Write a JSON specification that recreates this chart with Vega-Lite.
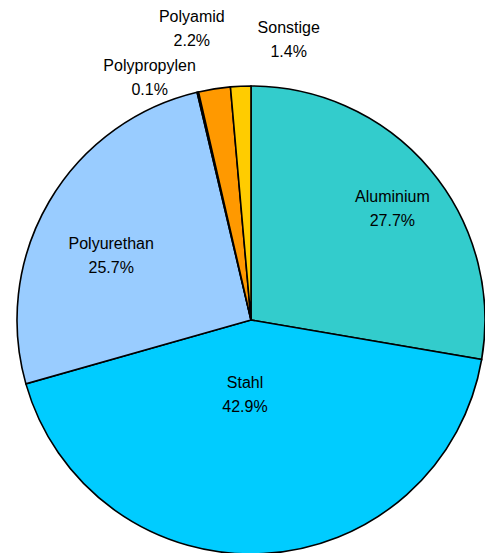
{
  "$schema": "https://vega.github.io/schema/vega-lite/v6.json",
  "width": 502,
  "height": 640,
  "autosize": "none",
  "padding": 0,
  "background": "white",
  "config": {"view": {"stroke": null}},
  "data": {
    "values": [
      {"name": "Aluminium", "share": 27.7, "rank": 1, "label": "Aluminium\n27.7%"},
      {"name": "Stahl", "share": 42.9, "rank": 2, "label": "Stahl\n42.9%"},
      {"name": "Polyurethan", "share": 25.7, "rank": 3, "label": "Polyurethan\n25.7%"},
      {"name": "Polypropylen", "share": 0.1, "rank": 4, "label": "Polypropylen\n0.1%"},
      {"name": "Polyamid", "share": 2.2, "rank": 5, "label": "Polyamid\n2.2%"},
      {"name": "Sonstige", "share": 1.4, "rank": 6, "label": "Sonstige\n1.4%"}
    ]
  },
  "encoding": {
    "theta": {"field": "share", "type": "quantitative", "stack": true},
    "order": {"field": "rank", "type": "quantitative"}
  },
  "layer": [
    {
      "mark": {"type": "arc", "outerRadius": 234, "stroke": "#000000", "strokeWidth": 1.6},
      "encoding": {
        "color": {
          "field": "name", "type": "nominal", "legend": null,
          "scale": {
            "domain": ["Aluminium", "Stahl", "Polyurethan", "Polypropylen", "Polyamid", "Sonstige"],
            "range": ["#33CCCC", "#00CCFF", "#99CCFF", "#99CCFF", "#FF9900", "#FFCC00"]
          }
        }
      }
    },
    {
      "mark": {"type": "text", "radius": 181, "dx": 3, "dy": -6, "font": "Liberation Sans", "fontSize": 16, "lineBreak": "\n", "lineHeight": 24, "align": "center", "baseline": "middle", "color": "#000000"},
      "encoding": {"text": {"condition": {"test": "datum.name === 'Aluminium'", "field": "label"}, "value": ""}}
    },
    {
      "mark": {"type": "text", "radius": 75, "dx": -10, "dy": -12, "font": "Liberation Sans", "fontSize": 16, "lineBreak": "\n", "lineHeight": 24, "align": "center", "baseline": "middle", "color": "#000000"},
      "encoding": {"text": {"condition": {"test": "datum.name === 'Stahl'", "field": "label"}, "value": ""}}
    },
    {
      "mark": {"type": "text", "radius": 154, "dx": -7, "dy": 2, "font": "Liberation Sans", "fontSize": 16, "lineBreak": "\n", "lineHeight": 24, "align": "center", "baseline": "middle", "color": "#000000"},
      "encoding": {"text": {"condition": {"test": "datum.name === 'Polyurethan'", "field": "label"}, "value": ""}}
    },
    {
      "mark": {"type": "text", "radius": 248, "dx": -45, "dy": -12, "font": "Liberation Sans", "fontSize": 16, "lineBreak": "\n", "lineHeight": 24, "align": "center", "baseline": "middle", "color": "#000000"},
      "encoding": {"text": {"condition": {"test": "datum.name === 'Polypropylen'", "field": "label"}, "value": ""}}
    },
    {
      "mark": {"type": "text", "radius": 295, "dx": -13, "dy": -12, "font": "Liberation Sans", "fontSize": 16, "lineBreak": "\n", "lineHeight": 24, "align": "center", "baseline": "middle", "color": "#000000"},
      "encoding": {"text": {"condition": {"test": "datum.name === 'Polyamid'", "field": "label"}, "value": ""}}
    },
    {
      "mark": {"type": "text", "radius": 280, "dx": 50, "dy": -12, "font": "Liberation Sans", "fontSize": 16, "lineBreak": "\n", "lineHeight": 24, "align": "center", "baseline": "middle", "color": "#000000"},
      "encoding": {"text": {"condition": {"test": "datum.name === 'Sonstige'", "field": "label"}, "value": ""}}
    }
  ]
}
